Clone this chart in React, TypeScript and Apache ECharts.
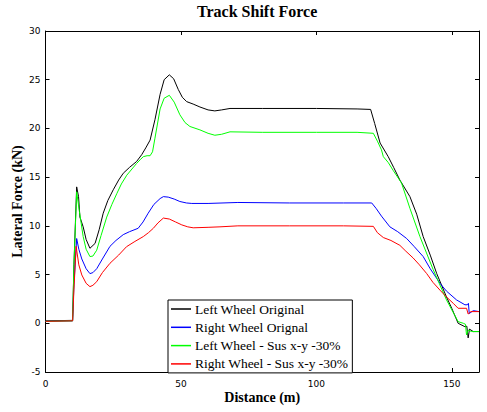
import React, { useEffect, useRef } from "react";
import * as echarts from "echarts";

const seriesNames = [
  "Left Wheel Original",
  "Right Wheel Orignal",
  "Left Wheel - Sus x-y -30%",
  "Right Wheel - Sus x-y -30%",
];
const seriesColors = ["#000000", "#0000ff", "#00ff00", "#ff0000"];

const leftOrigDist = [0, 10, 10.5, 11.5, 12.2, 12.7, 13.9, 15, 16.4, 18.3, 19.8, 21.3, 23, 25, 27, 28.7, 31, 33.6, 35.5, 37, 38.6, 40.4, 42.3, 43.8, 45.7, 47.3, 49, 50.5, 52.1, 54.5, 57, 60, 62.5, 65, 68.1, 80, 100, 115, 120, 121.5, 123.5, 126.5, 128.5, 130.8, 134.5, 137, 139.4, 142, 144.4, 148, 150, 152.3, 154.8, 155.5, 156, 156.5, 157.9, 160];
const leftOrigForce = [0.25, 0.3, 6, 14.0, 13.0, 10.9, 9.9, 8.6, 7.7, 8.2, 9.6, 11.3, 12.6, 13.7, 14.7, 15.4, 16.0, 16.6, 17.3, 18.0, 18.8, 20.9, 23.5, 25.0, 25.5, 25.1, 24.0, 23.2, 22.75, 22.5, 22.2, 21.9, 21.8, 21.9, 22.05, 22.05, 22.05, 22.0, 21.95, 20.5, 18.5, 17.1, 16.0, 14.7, 13.0, 11.2, 8.9, 7.0, 5.1, 2.7, 1.5, 0.0, -0.35, -0.3, -1.5, -0.6, -0.85, -0.85];

const rightOrigDist = [0, 10, 10.5, 11.5, 12.3, 13.4, 15, 16.4, 17.5, 18.9, 21, 23.8, 26, 28.7, 31, 34.2, 36, 37.9, 40, 42.3, 43.5, 45.3, 47.5, 49.6, 52, 54, 60, 71, 90, 110, 120.4, 122, 124, 127.1, 130, 133.3, 136, 139.4, 142, 145.6, 148, 151.7, 154.8, 155.7, 156.1, 156.4, 157.9, 160];
const rightOrigForce = [0.2, 0.25, 4, 8.7, 7.6, 6.6, 5.6, 5.1, 5.2, 5.6, 6.6, 7.9, 8.5, 9.1, 9.4, 9.75, 10.4, 11.3, 12.2, 12.8, 13.0, 12.95, 12.75, 12.5, 12.35, 12.3, 12.3, 12.4, 12.35, 12.35, 12.35, 11.8, 11.0, 9.9, 9.4, 8.7, 7.9, 6.85, 5.6, 4.1, 3.3, 2.4, 1.9, 1.9, 2.05, 1.0, 1.3, 1.2];

const leftSusDist = [0, 10, 10.5, 11.5, 12.5, 13.9, 15, 16.4, 17.5, 18.9, 20.5, 22.6, 24.5, 26.3, 28, 30, 33.6, 35, 36.1, 37.5, 38.6, 39.5, 40.4, 42.3, 43.8, 45.7, 47.5, 49.6, 51.5, 53.3, 57, 60, 62.5, 65, 68.1, 80, 100, 115, 121, 122.5, 124, 124.7, 126.5, 128.3, 131.4, 134.5, 138.2, 143.1, 148, 152.3, 154.2, 155, 155.4, 156, 157.3, 160];
const leftSusForce = [0.2, 0.25, 6, 13.5, 11.5, 8.9, 7.6, 6.85, 6.9, 7.5, 9.0, 10.9, 12.2, 13.3, 14.3, 15.2, 16.4, 16.8, 17.1, 17.2, 17.2, 17.6, 19.0, 22.0, 23.1, 23.4, 22.7, 21.4, 20.6, 20.2, 19.85, 19.5, 19.3, 19.4, 19.65, 19.6, 19.6, 19.6, 19.5, 18.7, 17.8, 17.1, 16.5, 15.7, 14.4, 11.8, 8.9, 5.5, 2.4, 0.17, 0.0, -0.1, -1.2, -0.7, -0.85, -0.85];

const rightSusDist = [0, 10, 10.5, 11.3, 12.3, 13.4, 15, 16.4, 17.5, 18.9, 21, 23.8, 27, 29.9, 33, 36.1, 38, 39.8, 41.5, 43.5, 45.7, 48, 50.3, 52.5, 54.5, 60, 64.4, 71, 90, 110, 121, 122.5, 124.7, 127.5, 130.8, 133, 135.7, 138, 140.7, 143, 145.6, 148, 150.5, 152.3, 155.4, 156, 157, 160];
const rightSusForce = [0.2, 0.25, 3.5, 7.9, 6.0, 4.96, 4.1, 3.76, 3.9, 4.27, 5.2, 6.16, 7.0, 7.86, 8.4, 8.9, 9.3, 9.75, 10.3, 10.8, 10.7, 10.4, 10.1, 9.9, 9.8, 9.85, 9.9, 10.0, 10.0, 10.0, 9.95, 9.3, 8.8, 8.5, 8.0, 7.4, 6.7, 6.0, 5.1, 4.2, 3.4, 2.7, 2.05, 1.54, 1.54, 0.95, 1.2, 1.2];

const xTicks = { min: 0, max: 160, interval: 50 };
const yTicks = { min: -5, max: 30, interval: 5 };

function pairs(xs: number[], ys: number[]) {
  return xs.map((x, i) => [x, ys[i]]);
}

export default function App() {
  const ref = useRef<HTMLDivElement>(null);
  useEffect(() => {
    if (!ref.current) return;
    const chart = echarts.init(ref.current, null, { renderer: "svg" });
    const allData = [
      pairs(leftOrigDist, leftOrigForce),
      pairs(rightOrigDist, rightOrigForce),
      pairs(leftSusDist, leftSusForce),
      pairs(rightSusDist, rightSusForce),
    ];
    const tickLabel = { fontFamily: "DejaVu Sans", fontSize: 9, color: "#000" };
    const axisLine = { show: true, onZero: false, lineStyle: { color: "#000", width: 1 } };
    const axisTick = { show: true, inside: true, length: 4, lineStyle: { color: "#000" } };
    chart.setOption({
      animation: false,
      backgroundColor: "#fff",
      title: {
        text: "Track Shift Force",
        left: 197,
        top: 3,
        padding: 0,
        textStyle: { fontFamily: "Liberation Serif", fontWeight: "bold", fontSize: 16, color: "#000" },
      },
      legend: {
        orient: "vertical",
        left: 168,
        top: 300,
        data: seriesNames.map((n) => ({ name: n, icon: "rect" })),
        itemWidth: 20,
        itemHeight: 1.5,
        itemGap: 4.3,
        padding: [2, 4, 2, 3],
        borderColor: "#000",
        borderWidth: 1,
        borderRadius: 0,
        backgroundColor: "#fff",
        textStyle: { fontFamily: "Liberation Serif", fontSize: 13.5, color: "#000", padding: [0, 0, 0, -1] },
      },
      grid: { left: 45.5, right: 8, top: 31, bottom: 40, containLabel: false, outerBoundsMode: "none" },
      xAxis: [
        {
          type: "value",
          ...xTicks,
          position: "bottom",
          name: "Distance (m)",
          nameLocation: "middle",
          nameGap: 18,
          nameMoveOverlap: false,
          nameTextStyle: { fontFamily: "Liberation Serif", fontWeight: "bold", fontSize: 14, color: "#000" },
          axisLine,
          axisTick,
          axisLabel: { ...tickLabel, margin: 7, showMaxLabel: false },
          splitLine: { show: false },
        },
        {
          type: "value",
          ...xTicks,
          position: "top",
          axisLine,
          axisTick,
          axisLabel: { show: false },
          splitLine: { show: false },
        },
      ],
      yAxis: [
        {
          type: "value",
          ...yTicks,
          position: "left",
          name: "Lateral Force (kN)",
          nameLocation: "middle",
          nameGap: 21,
          nameMoveOverlap: false,
          nameTextStyle: { fontFamily: "Liberation Serif", fontWeight: "bold", fontSize: 14, color: "#000" },
          axisLine,
          axisTick,
          axisLabel: { ...tickLabel, margin: 5 },
          splitLine: { show: false },
        },
        {
          type: "value",
          ...yTicks,
          position: "right",
          axisLine,
          axisTick,
          axisLabel: { show: false },
          splitLine: { show: false },
        },
      ],
      series: seriesNames.map((name, i) => ({
        name,
        type: "line",
        data: allData[i],
        xAxisIndex: 0,
        yAxisIndex: 0,
        showSymbol: false,
        symbol: "none",
        smooth: false,
        color: seriesColors[i],
        lineStyle: { color: seriesColors[i], width: 1 },
      })),
    });
    return () => chart.dispose();
  }, []);
  return <div ref={ref} style={{ width: 487, height: 412, position: "absolute", left: 0, top: 0 }} />;
}
